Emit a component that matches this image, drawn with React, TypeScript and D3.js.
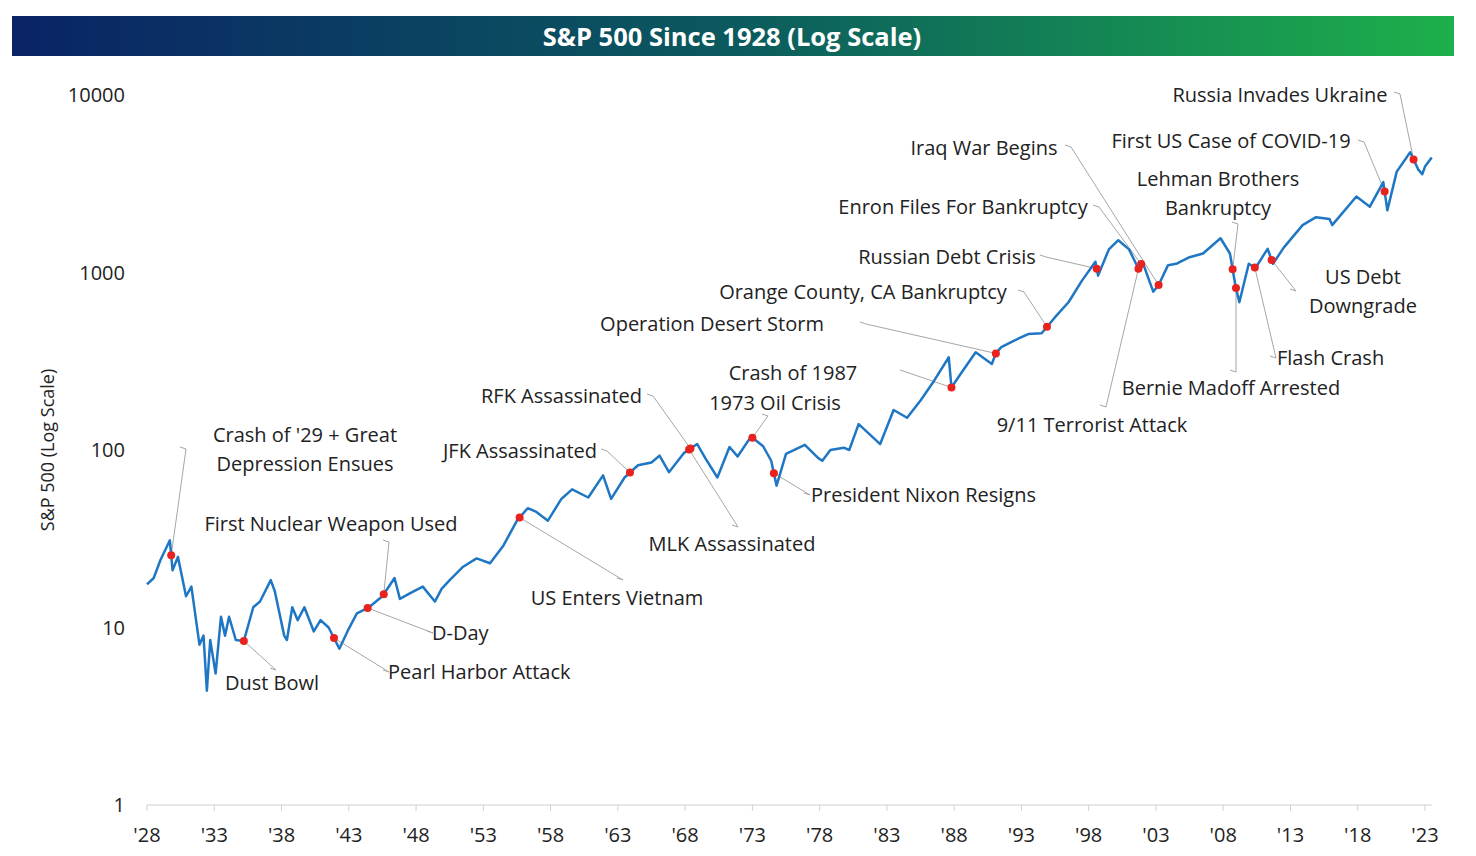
import React from 'react';
import * as d3 from 'd3';

// S&P 500 approximate path (decimal year, index level)
const years = [1928.0,1928.5,1929.0,1929.7,1929.9,1930.3,1930.9,1931.3,1931.9,1932.2,1932.45,1932.7,1933.1,1933.5,1933.8,1934.1,1934.6,1935.2,1935.9,1936.4,1937.2,1937.5,1938.2,1938.4,1938.8,1939.2,1939.7,1940.4,1940.9,1941.5,1942.3,1942.9,1943.6,1944.5,1945.5,1946.4,1946.8,1947.5,1948.5,1949.4,1949.9,1950.5,1951.5,1952.5,1953.5,1954.5,1955.5,1956.3,1956.9,1957.8,1958.8,1959.6,1960.8,1961.9,1962.5,1963.5,1964.5,1965.5,1966.1,1966.8,1967.9,1968.9,1969.5,1970.4,1971.3,1971.9,1972.9,1973.8,1974.4,1974.8,1975.5,1976.9,1977.9,1978.2,1978.8,1979.8,1980.2,1980.9,1982.5,1983.5,1984.5,1985.5,1986.5,1987.6,1987.8,1988.5,1989.6,1990.8,1991.1,1991.5,1992.5,1993.5,1994.5,1995.5,1996.5,1997.5,1998.5,1998.7,1999.5,2000.2,2001.0,2001.7,2002.0,2002.5,2002.8,2003.2,2003.9,2004.5,2005.5,2006.5,2007.8,2008.5,2008.9,2009.2,2009.9,2010.4,2011.3,2011.7,2012.5,2013.9,2014.9,2015.9,2016.1,2017.9,2018.9,2019.9,2020.2,2020.9,2021.9,2022.5,2022.8,2023.0,2023.5];
const levels = [17.5,19,24,31,21,25,15,17,8,9,4.4,8.5,5.5,11.5,9,11.5,8.5,8.4,13,14,18.5,16,9,8.5,13,11,13,9.5,11,10,7.6,9.5,12,13,15,19,14.5,15.5,17,14,16.5,18.5,22,24.5,23,29,40,47,45,40,53,60,54,72,53,70,82,85,93,75,96,108,90,70,104,92,119,105,87,63,95,107,90,87,100,103,100,140,108,168,152,190,245,333,225,270,355,305,350,380,415,450,455,560,680,900,1150,960,1350,1520,1350,1050,1150,900,780,850,1100,1120,1220,1280,1560,1280,850,680,1120,1060,1360,1120,1380,1850,2050,2000,1850,2680,2350,3230,2240,3700,4760,3800,3580,3950,4450];

// events
const eventNames = ["Crash of '29 + Great|Depression Ensues","Dust Bowl","Pearl Harbor Attack","D-Day","First Nuclear Weapon Used","US Enters Vietnam","JFK Assassinated","MLK Assassinated","RFK Assassinated","1973 Oil Crisis","President Nixon Resigns","Crash of 1987","Operation Desert Storm","Orange County, CA Bankruptcy","Russian Debt Crisis","Enron Files For Bankruptcy","9/11 Terrorist Attack","Iraq War Begins","Lehman Brothers|Bankruptcy","Bernie Madoff Arrested","Flash Crash","US Debt|Downgrade","First US Case of COVID-19","Russia Invades Ukraine"];
const eventDates = [1929.8,1935.2,1941.9,1944.4,1945.6,1955.7,1963.9,1968.3,1968.4,1973.0,1974.6,1987.8,1991.1,1994.9,1998.6,2001.9,2001.7,2003.2,2008.7,2008.95,2010.35,2011.6,2020.0,2022.15];

// label layout: [x, y, anchor, leaderStartX, leaderStartY]
const labelLayout: [number, number, string, number, number][] = [
  [305,435,'middle',180,447],[272,683,'middle',270,668],[388,672,'start',383,670],[432,633,'start',427,631],
  [331,524,'middle',383,540],[617,598,'middle',617,578],[597,451,'end',601,449],[732,544,'middle',732,525],
  [642,396,'end',647,394],[775,403,'middle',762,414],[811,495,'start',804,493],[793,373,'middle',900,370],
  [712,324,'middle',860,322],[863,292,'middle',1018,290],[947,257,'middle',1040,255],[963,207,'middle',1093,205],
  [1092,425,'middle',1100,405],[984,148,'middle',1065,145],[1218,179,'middle',1232,222],[1231,388,'middle',1230,370],
  [1277,358,'start',1270,356],[1363,277,'middle',1290,289],[1231,141,'middle',1358,140],[1280,95,'middle',1394,92],
];

const ticks = [1928,1933,1938,1943,1948,1953,1958,1963,1968,1973,1978,1983,1988,1993,1998,2003,2008,2013,2018,2023];
const yTicks = [1,10,100,1000,10000];

const font = "'Open Sans', 'Liberation Sans', sans-serif";

export default function App() {
  const x = d3.scaleLinear().domain([1928, 2023]).range([147, 1425]);
  const y = d3.scaleLog().domain([1, 10000]).range([805, 95]);
  const data = years.map((t, i) => ({ t, v: levels[i] }));
  const line = d3.line<{ t: number; v: number }>().x(d => x(d.t)).y(d => y(d.v));
  const valueAt = d3.scaleLinear().domain(years).range(levels.map(Math.log10));

  return (
    <svg width={1476} height={856} style={{ position: 'absolute', left: 0, top: 0, background: '#fff' }}>
      <defs>
        <linearGradient id="tb" x1="0" x2="1">
          <stop offset="0" stopColor="#0a2366" />
          <stop offset="0.5" stopColor="#0b5a5e" />
          <stop offset="1" stopColor="#1db04b" />
        </linearGradient>
      </defs>
      <rect x={12} y={16} width={1442} height={40} fill="url(#tb)" />
      <text x={732} y={46} textAnchor="middle" fill="#fff" fontFamily={font} fontWeight="bold" fontSize={25.5}>S&amp;P 500 Since 1928 (Log Scale)</text>

      {yTicks.map(v => (
        <text key={v} x={125} y={y(v) + 7} textAnchor="end" fontFamily={font} fontSize={20} fill="#222">{v}</text>
      ))}
      <line x1={147} x2={1432} y1={805} y2={805} stroke="#d0d0d0" />
      {ticks.map(t => (
        <g key={t}>
          <line x1={x(t)} x2={x(t)} y1={805} y2={811} stroke="#d0d0d0" />
          <text x={x(t)} y={842} textAnchor="middle" fontFamily={font} fontSize={20} fill="#222">'{String(t).slice(2)}</text>
        </g>
      ))}
      <text transform="translate(54,450) rotate(-90)" textAnchor="middle" fontFamily={font} fontSize={18} fill="#222">S&amp;P 500 (Log Scale)</text>

      {eventNames.map((n, i) => {
        const [lx, ly, anchor, sx, sy] = labelLayout[i];
        const px = x(eventDates[i]);
        const py = y(Math.pow(10, valueAt(eventDates[i])));
        return (
          <g key={n}>
            <polyline points={`${sx},${sy} ${sx + 6},${sy + 2} ${px},${py}`} fill="none" stroke="#a6a6a6" strokeWidth={1} />
            {n.split('|').map((s, k) => (
              <text key={k} x={lx} y={ly + k * 29 + 7} textAnchor={anchor as any} fontFamily={font} fontSize={20} fill="#222">{s}</text>
            ))}
          </g>
        );
      })}

      <path d={line(data) ?? ''} fill="none" stroke="#1f77c4" strokeWidth={2.5} strokeLinejoin="round" />

      {eventDates.map((t, i) => (
        <circle key={i} cx={x(t)} cy={y(Math.pow(10, valueAt(t)))} r={4} fill="#e8231f" />
      ))}
    </svg>
  );
}
